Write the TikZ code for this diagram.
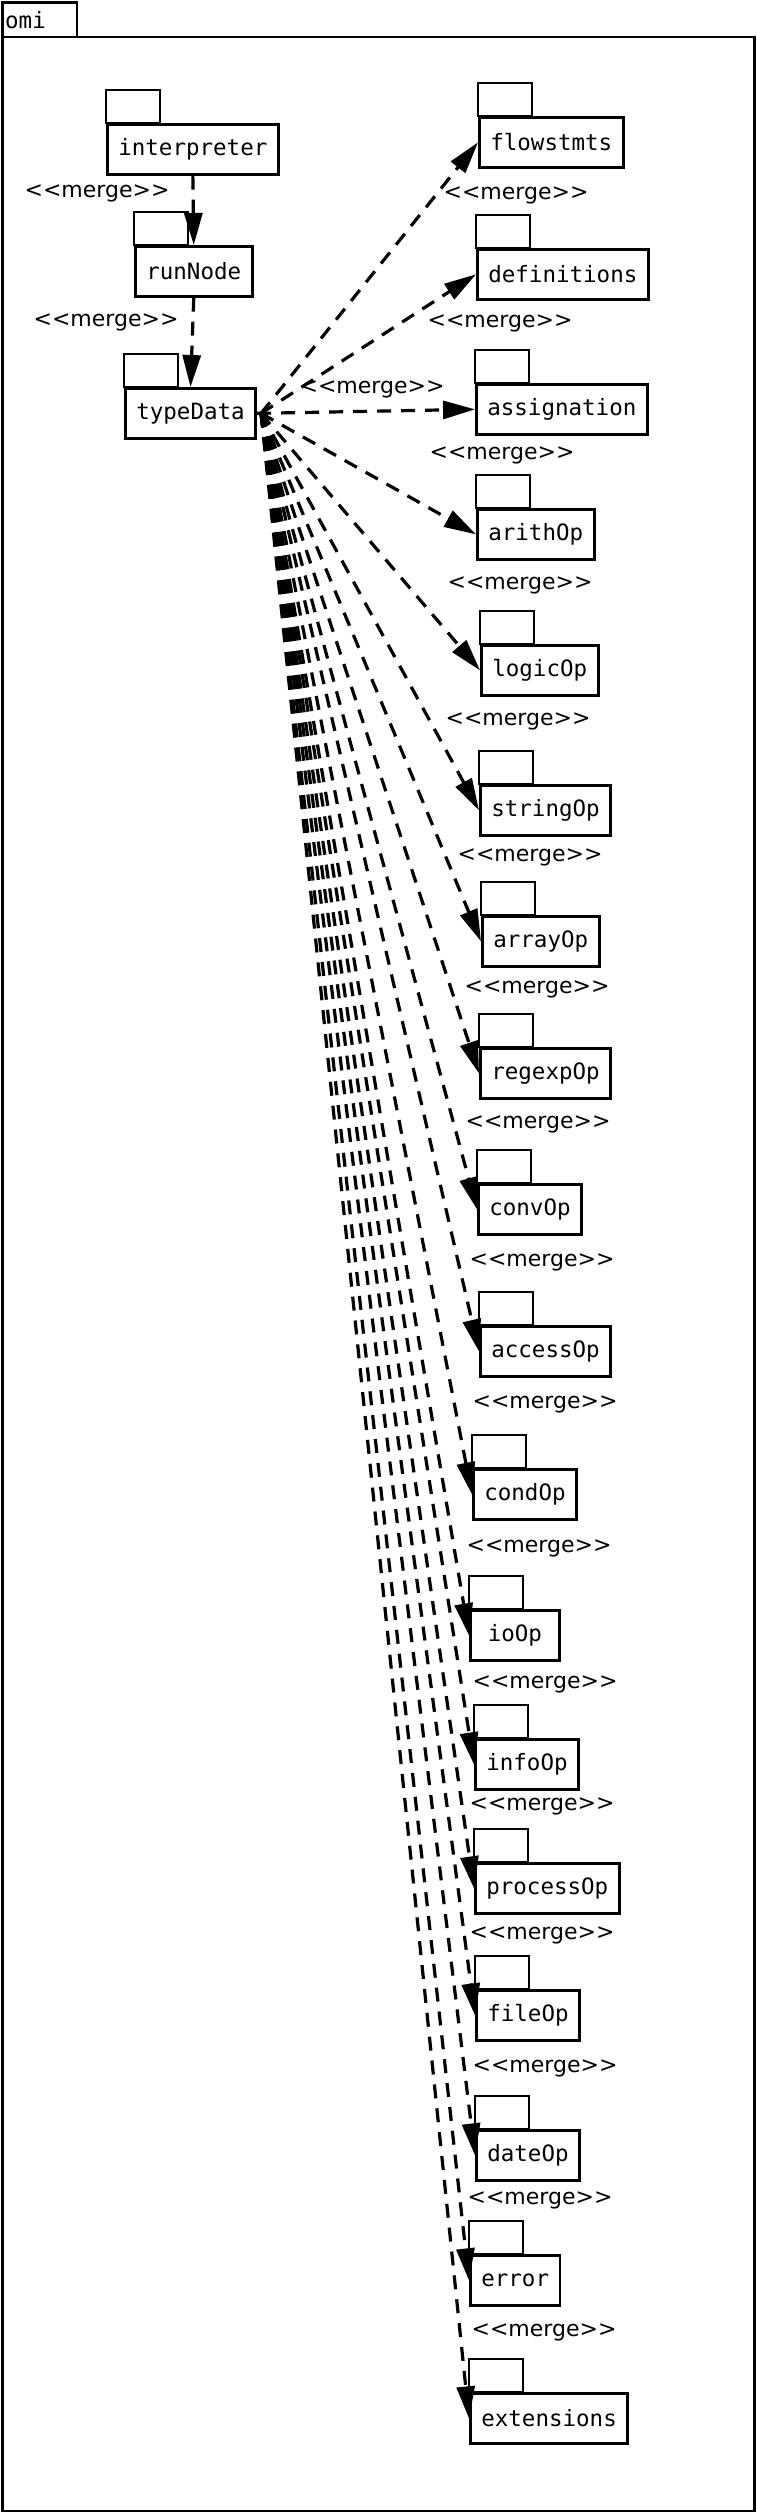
\documentclass[tikz,border=0pt]{standalone}
\usepackage{fontspec}
\usepackage{tikz}
\usetikzlibrary{arrows.meta}

\newfontfamily\pkgfont{DejaVu Sans Mono}
\newfontfamily\lblfont{DejaVu Sans}
\newcommand{\mrg}{<\kern0pt<merge>\kern0pt>}

\begin{document}
\begin{tikzpicture}[x=1pt, y=-1pt,
    pkg/.style = {draw, line width=2.7pt, anchor=north west, minimum height=50pt, minimum width=89pt, inner xsep=11pt, font={\pkgfont\fontsize{22.5}{26}\selectfont}},
    tab/.style = {draw, line width=2.7pt},
    merge/.style = {line width=3.2pt, dash pattern=on 14pt off 10pt, -{Triangle[length=32pt, width=18pt]}},
    lbl/.style = {font={\lblfont\fontsize{22}{26}\selectfont}, inner sep=0pt}]

    % \draw [help lines, step = 100] (0,0) grid (756,2515);
    \useasboundingbox (0,0) rectangle (756,2515);

    % frame
    \draw [tab] (2.4,2.7) rectangle (77,37);
    \draw [tab] (2.4,37) rectangle (754.6,2511);
    \node [font={\pkgfont\fontsize{22.5}{26}\selectfont}, anchor=base west, inner sep=0pt] (omi) at (5,29) {omi};

    % left column
    \node [pkg] (interp) at (106,123) {interpreter};
    \node [pkg] (runNode) at (134,245) {runNode};
    \node [pkg] (typeData) at (124,387) {typeData};

    % right column
    \node [pkg] (flowstmts) at (478,116) {flowstmts};
    \node [pkg] (definitions) at (476,248) {definitions};
    \node [pkg] (assignation) at (475,383) {assignation};
    \node [pkg] (arithOp) at (476,508) {arithOp};
    \node [pkg] (logicOp) at (480,644) {logicOp};
    \node [pkg] (stringOp) at (479,784) {stringOp};
    \node [pkg] (arrayOp) at (481,915) {arrayOp};
    \node [pkg] (regexpOp) at (479,1047) {regexpOp};
    \node [pkg] (convOp) at (477,1183) {convOp};
    \node [pkg] (accessOp) at (479,1325) {accessOp};
    \node [pkg] (condOp) at (472,1468) {condOp};
    \node [pkg] (ioOp) at (469,1609) {ioOp};
    \node [pkg] (infoOp) at (474,1738) {infoOp};
    \node [pkg] (processOp) at (474,1862) {processOp};
    \node [pkg] (fileOp) at (475,1989) {fileOp};
    \node [pkg] (dateOp) at (475,2129) {dateOp};
    \node [pkg] (error) at (469,2254) {error};
    \node [pkg] (extensions) at (469,2392) {extensions};

    % tabs
    \draw [tab] (interp.north west) rectangle ++(54,-33);
    \draw [tab] (runNode.north west) rectangle ++(54,-33);
    \draw [tab] (typeData.north west) rectangle ++(54,-33);
    \draw [tab] (flowstmts.north west) rectangle ++(54,-33);
    \draw [tab] (definitions.north west) rectangle ++(54,-33);
    \draw [tab] (assignation.north west) rectangle ++(54,-33);
    \draw [tab] (arithOp.north west) rectangle ++(54,-33);
    \draw [tab] (logicOp.north west) rectangle ++(54,-33);
    \draw [tab] (stringOp.north west) rectangle ++(54,-33);
    \draw [tab] (arrayOp.north west) rectangle ++(54,-33);
    \draw [tab] (regexpOp.north west) rectangle ++(54,-33);
    \draw [tab] (convOp.north west) rectangle ++(54,-33);
    \draw [tab] (accessOp.north west) rectangle ++(54,-33);
    \draw [tab] (condOp.north west) rectangle ++(54,-33);
    \draw [tab] (ioOp.north west) rectangle ++(54,-33);
    \draw [tab] (infoOp.north west) rectangle ++(54,-33);
    \draw [tab] (processOp.north west) rectangle ++(54,-33);
    \draw [tab] (fileOp.north west) rectangle ++(54,-33);
    \draw [tab] (dateOp.north west) rectangle ++(54,-33);
    \draw [tab] (error.north west) rectangle ++(54,-33);
    \draw [tab] (extensions.north west) rectangle ++(54,-33);

    % merge labels
    \node [lbl] (mInterp) at (97,193) {\mrg};
    \node [lbl] (mRun) at (106,322) {\mrg};
    \node [lbl] (mFlow) at (516,195) {\mrg};
    \node [lbl] (mDef) at (500,323) {\mrg};
    \node [lbl] (mAssign) at (372,389) {\mrg};
    \node [lbl] (mArith) at (502,455) {\mrg};
    \node [lbl] (mLogic) at (520,585) {\mrg};
    \node [lbl] (mString) at (518,721) {\mrg};
    \node [lbl] (mArray) at (530,857) {\mrg};
    \node [lbl] (mRegexp) at (537,989) {\mrg};
    \node [lbl] (mConv) at (538,1124) {\mrg};
    \node [lbl] (mAccess) at (542,1262) {\mrg};
    \node [lbl] (mCond) at (545,1404) {\mrg};
    \node [lbl] (mIo) at (539,1548) {\mrg};
    \node [lbl] (mInfo) at (545,1684) {\mrg};
    \node [lbl] (mProcess) at (542,1806) {\mrg};
    \node [lbl] (mFile) at (542,1935) {\mrg};
    \node [lbl] (mDate) at (545,2068) {\mrg};
    \node [lbl] (mError) at (540,2200) {\mrg};
    \node [lbl] (mExt) at (544,2332) {\mrg};

    % merges
    \coordinate (src) at ([xshift=4pt]typeData.east);

    \draw [merge] (interp.south) -- (runNode.north);
    \draw [merge] (runNode.south) -- (typeData.north);

    \draw [merge] (src) -- (flowstmts.west);
    \draw [merge] (src) -- (definitions.west);
    \draw [merge] (typeData.east) -- (assignation.west);
    \draw [merge] (src) -- (arithOp.west);
    \draw [merge] (src) -- (logicOp.west);
    \draw [merge] (src) -- (stringOp.west);
    \draw [merge] (src) -- (arrayOp.west);
    \draw [merge] (src) -- (regexpOp.west);
    \draw [merge] (src) -- (convOp.west);
    \draw [merge] (src) -- (accessOp.west);
    \draw [merge] (src) -- (condOp.west);
    \draw [merge] (src) -- (ioOp.west);
    \draw [merge] (src) -- (infoOp.west);
    \draw [merge] (src) -- (processOp.west);
    \draw [merge] (src) -- (fileOp.west);
    \draw [merge] (src) -- (dateOp.west);
    \draw [merge] (src) -- (error.west);
    \draw [merge] (src) -- (extensions.west);

\end{tikzpicture}
\end{document}
